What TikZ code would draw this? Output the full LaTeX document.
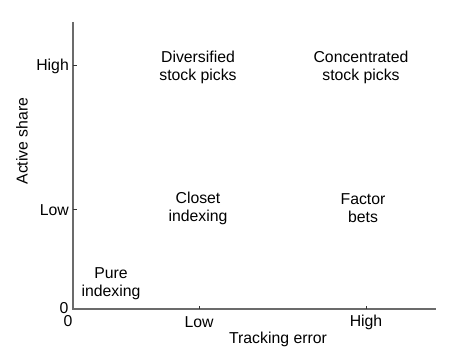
\documentclass[tikz,border=0pt]{standalone}
\usepackage{fontspec}
\setmainfont{Liberation Sans}
\usetikzlibrary{positioning}

\begin{document}
\begin{tikzpicture}[
  x=1pt, y=-1pt,
  axisline/.style={draw=black!58, line width=1.6pt},
  tickmark/.style={draw=black!80, line width=0.6pt},
  ticklabel/.style={font=\fontsize{15.8}{18}\selectfont, inner sep=0pt},
  region/.style={font=\fontsize{15.8}{18}\selectfont, align=center, inner sep=0pt}
]

\useasboundingbox (0,0) rectangle (449,358);

% -------------------------
% Axes
% -------------------------

\coordinate (origin) at (73,309);
\coordinate (ytop) at (73,22);
\coordinate (xend) at (436,309);

\draw[axisline] (ytop) -- (origin) -- (xend);

% ticks
\coordinate (yhigh) at (73,65);
\coordinate (ylow) at (73,209);
\coordinate (xlow) at (199,309);
\coordinate (xhigh) at (366,309);

\draw[tickmark] (yhigh) -- ++(3.5,0);
\draw[tickmark] (ylow) -- ++(3.5,0);
\draw[tickmark] (xlow) -- ++(0,-3.5);
\draw[tickmark] (xhigh) -- ++(0,-3.5);

% -------------------------
% Tick labels and axis titles
% -------------------------

\node[ticklabel, anchor=east] (lblyhigh) at (69,66) {High};
\node[ticklabel, anchor=east] (lblylow) at (69,210) {Low};
\node[ticklabel] (lblyzero) at (64,308) {0};
\node[ticklabel] (lblxzero) at (68,321) {0};
\node[ticklabel] (lblxlow) at (199,322) {Low};
\node[ticklabel] (lblxhigh) at (366,322) {High};

\node[ticklabel] (xtitle) at (278,339) {Tracking error};
\node[ticklabel, rotate=90] (ytitle) at (22,141) {Active share};

% -------------------------
% Region labels
% -------------------------

\node[region] (divers) at (198,67) {Diversified\\stock picks};
\node[region] (concen) at (361,67) {Concentrated\\stock picks};
\node[region] (closet) at (198,208) {Closet\\indexing};
\node[region] (factor) at (363,208) {Factor\\bets};
\node[region] (pure) at (111,284) {Pure\\indexing};

\end{tikzpicture}
\end{document}
